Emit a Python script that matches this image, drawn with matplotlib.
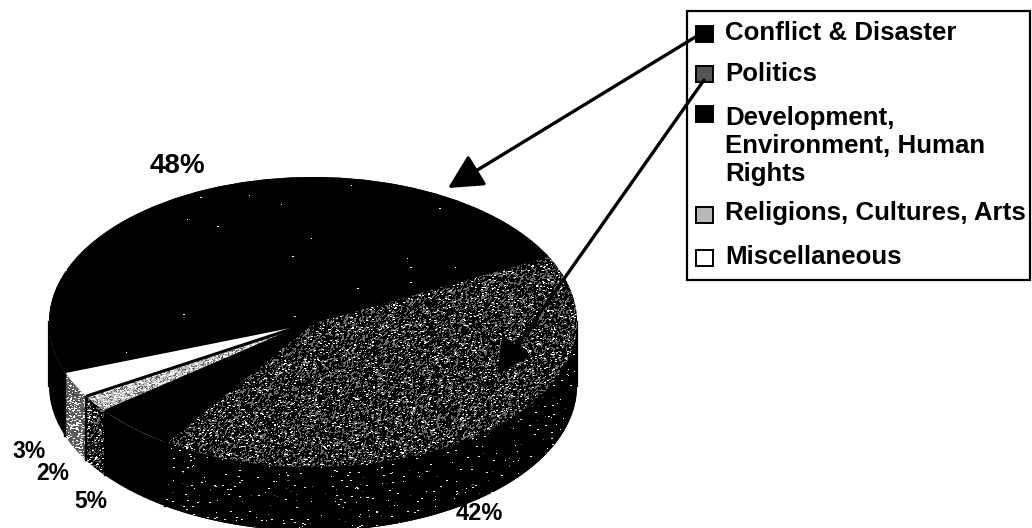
import matplotlib
matplotlib.use("Agg")
import matplotlib.pyplot as plt
import numpy as np
from matplotlib.patches import Rectangle

plt.rcParams["font.family"] = ["Liberation Sans", "DejaVu Sans"]

W, H = 1032, 528
CX, CY, RX, RY = 313, 322, 264, 145
DEPTH = 64 / RY
START = 200

categories = ["Conflict & Disaster", "Politics", "Development,\nEnvironment, Human\nRights",
              "Religions, Cultures, Arts", "Miscellaneous"]
shares = [48, 42, 5, 2, 3]
top_colors = ["black", "black", "black", "#c8c8c8", "white"]
side_colors = ["black", "black", "black", "black", "#555555"]
# grain of each face as (white speckle, grey speckle)
top_grain = [(0.0006, 0), (0.055, 0.30), (0, 0), (0.30, 0.35), None]
side_grain = [(0, 0), (0.012, 0.003), (0, 0), (0.10, 0.30), (0.28, 0.40)]
label_text = ["48%", "42%", "5%", "2%", "3%"]
label_x = [177, 479, 91, 53, 29]
label_y = [166, 513, 502, 474, 451]
label_size = [20, 17, 16.5, 16.5, 16.5]
legend_y = [33, 74, 146, 213, 257]
swatch_y = [34, 74, 114, 215, 258]

xlim = (-CX / RX, (W - CX) / RX)
ylim = ((CY - H) / RY, CY / RY)
rng = np.random.default_rng(7)


def grain(ax, patch, white, grey, base):
    """Overlay a pixel speckle on a face, clipped to its outline."""
    if white == 0 and grey == 0:
        return
    img = np.full((H, W), base, dtype=float)
    blobs = rng.random((H, W))
    blobs = (blobs + np.roll(blobs, 1, axis=0) + np.roll(blobs, 1, axis=1)) / 3
    img[blobs > np.quantile(blobs, 1 - grey)] = 0.42
    dashes = rng.random((H, W)) < white / 1.6
    dashes |= np.roll(dashes, 1, axis=1) & (rng.random((H, W)) < 0.6)
    img[dashes] = 1.0
    im = ax.imshow(img, cmap="gray", vmin=0, vmax=1, extent=(*xlim, *ylim), origin="upper",
                   aspect="auto", interpolation="nearest", zorder=patch.get_zorder() + 0.1)
    im.set_clip_path(patch)


fig = plt.figure(figsize=(W / 100, H / 100), dpi=100)
ax = fig.add_axes([0, 0, 1, 1])

# side wall first, then the lid on top of it
edges = START - np.cumsum([0] + shares) * 3.6
for i in range(len(shares)):
    for k in (0, 360):
        lo = max(edges[i + 1] + k, 180)
        hi = min(edges[i] + k, 360)
        if lo >= hi:
            continue
        t = np.radians(np.linspace(lo, hi, 60))
        xs = np.r_[np.cos(t), np.cos(t[::-1])]
        ys = np.r_[np.sin(t), np.sin(t[::-1]) - DEPTH]
        poly, = ax.fill(xs, ys, facecolor=side_colors[i], linewidth=0, zorder=1)
        grain(ax, poly, *side_grain[i], 0.0 if i != 4 else 0.33)
        for j in (0, -1):
            ax.plot(np.cos(t[[j, j]]), [np.sin(t[j]), np.sin(t[j]) - DEPTH], color="black", lw=1.6, zorder=2)

wedges, _ = ax.pie(shares, colors=top_colors, startangle=START, counterclock=False,
                   radius=1, wedgeprops={"linewidth": 0, "zorder": 3})
for w, g, face in zip(wedges, top_grain, top_colors):
    if g:
        grain(ax, w, *g, 0.0 if face == "black" else 0.75)

# dark seams between the slices
for a in np.radians(edges[:-1]):
    ax.plot([0, np.cos(a)], [0, np.sin(a)], color="black", lw=2.2, zorder=4,
            solid_capstyle="butt")

ax.set_aspect("auto")
ax.set_xlim(*xlim)
ax.set_ylim(*ylim)
ax.axis("off")

# pixel-space layer for the labels, key and arrows
ov = fig.add_axes([0, 0, 1, 1], facecolor="none")
ov.set_xlim(0, W)
ov.set_ylim(H, 0)
ov.axis("off")

for s, x, y, size in zip(label_text, label_x, label_y, label_size):
    ov.text(x, y, s, fontsize=size, fontweight="bold", ha="center", va="center", color="black")

ov.add_patch(Rectangle((687, 11), 343, 269, facecolor="white", edgecolor="black", lw=1.6, zorder=2))
swatch_faces = ["black", "#555555", "black", "#b8b8b8", "white"]
for name, ty, sy, face in zip(categories, legend_y, swatch_y, swatch_faces):
    ov.add_patch(Rectangle((696, sy - 8), 17, 16, facecolor=face, edgecolor="black", lw=1.4, zorder=3))
    ov.text(725, ty, name, fontsize=18.6, fontweight="bold", ha="left", va="center",
            linespacing=1.22, zorder=3, color="black")

head = "-|>,head_length=1.32,head_width=0.68"
ov.annotate("", xy=(448, 188), xytext=(697, 36), zorder=4,
            arrowprops=dict(arrowstyle=head, mutation_scale=16, lw=2.4, color="black", shrinkA=0, shrinkB=0))
ov.annotate("", xy=(497, 374), xytext=(704, 80), zorder=4,
            arrowprops=dict(arrowstyle=head, mutation_scale=16, lw=2.4, color="black", shrinkA=0, shrinkB=0))

fig.savefig("out.png", dpi=100)
